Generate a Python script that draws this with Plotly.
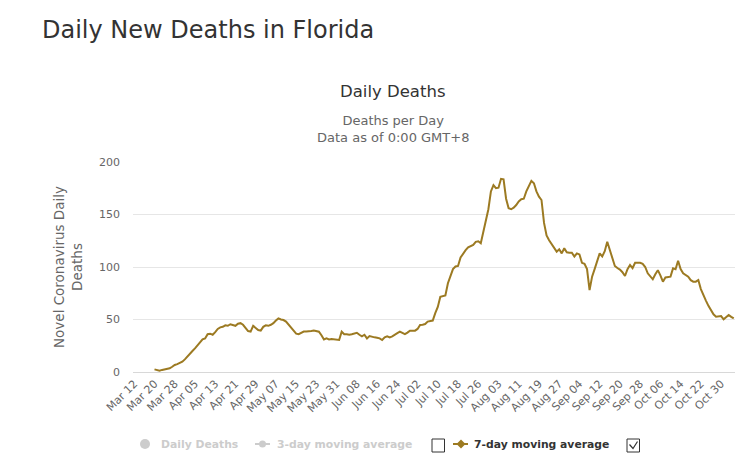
import plotly.graph_objects as go
import pandas as pd

# ---- data ----
dates = pd.date_range("2020-03-12", "2020-11-04", freq="D")
categories = [d.strftime("%b %d") for d in dates]

avg7 = [None] * 8 + [
    2.5, 1.5, 1.2, 2, 2.5, 2.5, 3.5, 5, 6.7, 7.5, 8.5, 9.8,            # d8-19
    12, 15, 18, 20, 22.5, 25, 28.5, 31, 32, 36,                          # d20-29
    36.5, 35.5, 38, 41, 42.5, 43, 44.5, 44, 45.5, 44.5,                  # d30-39
    44, 46, 46.5, 45, 42.5, 39, 38.5, 44, 42, 40,                        # d40-49
    39.4, 43, 44.5, 44, 45, 46.5, 49, 51, 50, 49.5,                      # d50-59
    48, 45, 42, 39, 36.5, 36, 37.5, 38.5, 38.5, 38.4,                    # d60-69
    39, 39.4, 39, 38.4, 35, 31, 32, 31, 31.5, 31,                        # d70-79
    30.5, 30.5, 38.4, 36, 36, 35.5, 36, 37, 37.4, 35.5,                  # d80-89
    34, 35.5, 32, 34.3, 33.5, 33, 32.7, 32, 30.5, 33,                    # d90-99
    34, 33, 34, 35.2, 37, 38.4, 37.5, 36, 37.5, 39.4,                    # d100-109
    39.4, 39.4, 41, 44.8, 45, 45.7, 48, 48.5, 49, 56,                    # d110-119
    62, 71.7, 72, 73, 84.5, 92, 98, 100.5, 101, 109,                     # d120-129
    113, 116, 118.7, 120, 121, 124, 124.5, 122.6, 133, 146,              # d130-139
    155, 172, 178, 175, 175.5, 184, 183.5, 165, 156, 155,                # d140-149
    156.5, 159, 162.5, 164.5, 165, 172, 177, 182, 179.7, 172,            # d150-159
    167, 163.8, 142, 130, 125.5, 122, 119, 114.6, 116.9, 113,            # d160-169
    117.8, 114, 113.6, 113.6, 110, 113, 112, 104, 103, 98,               # d170-179
    78, 90.8, 98, 106, 113, 110, 115, 124, 116, 107,                     # d180-189
    101, 99, 97.5, 95, 91.4, 98, 101.9, 99, 104, 104,                    # d190-199
    104, 103, 100, 94, 91, 88.3, 93, 97, 92, 86,                         # d200-209
    90, 90.5, 90.8, 98.7, 97.8, 106, 98, 94, 92, 90.8,                   # d210-219
    87.5, 86, 86, 87.6, 79, 72.5, 68, 63, 59, 55,                        # d220-229
    52.7, 53, 53.3, 50.2, 52.5, 54.3, 52.5, 51,                          # d230-237
]

y_ticks = [0, 50, 100, 150, 200]
x_tick_labels = categories[::8]

LINE = "#9c7a22"
W, H = 749, 469
L, R, T, B = 133, 14, 162, 97
PW, PH = W - L - R, H - T - B


def px(xp):
    return (xp - L) / PW


def py(yp):
    return (H - B - yp) / PH


FONT = "DejaVu Sans"

fig = go.Figure()
fig.add_trace(go.Scatter(
    x=categories, y=avg7, mode="lines", name="7-day moving average",
    line=dict(color=LINE, width=2), connectgaps=False, showlegend=False,
))

fig.update_layout(
    width=W, height=H, autosize=False,
    margin=dict(l=L, r=R, t=T, b=B),
    paper_bgcolor="white", plot_bgcolor="white",
    font=dict(family=FONT, color="#666666", size=11),
    xaxis=dict(
        type="category", categoryorder="array", categoryarray=categories,
        range=[-0.5, len(categories) - 0.5],
        tickmode="array", tickvals=x_tick_labels, ticktext=x_tick_labels,
        tickangle=-45, tickfont=dict(size=11, color="#666666"),
        showgrid=False, showline=True, linecolor="#d8d8d8", linewidth=1,
        ticks="", zeroline=False, fixedrange=True,
    ),
    yaxis=dict(
        range=[0, 200], tickvals=y_ticks, showgrid=True, gridcolor="#e6e6e6",
        gridwidth=1, zeroline=False, showline=False, ticks="",
        tickfont=dict(size=11, color="#666666"), ticklabelstandoff=12,
        title=dict(text="Novel Coronavirus Daily<br>Deaths",
                   font=dict(size=13.5, color="#666666"), standoff=13),
        fixedrange=True,
    ),
)

ann = []
ann.append(dict(text="Daily New Deaths in Florida", x=px(40), y=py(30),
                xref="paper", yref="paper", xanchor="left", yanchor="middle",
                showarrow=False, font=dict(size=24, color="#333333", family=FONT)))
ann.append(dict(text="Daily Deaths", x=px(393), y=py(91),
                xref="paper", yref="paper", xanchor="center", yanchor="middle",
                showarrow=False, font=dict(size=16.5, color="#333333", family=FONT)))
ann.append(dict(text="Deaths per Day<br>Data as of 0:00 GMT+8", x=px(393), y=py(129),
                xref="paper", yref="paper", xanchor="center", yanchor="middle",
                showarrow=False, font=dict(size=13, color="#666666", family=FONT)))

LY = 444
for txt, x0, col in [("Daily Deaths", 159, "#cccccc"),
                     ("3-day moving average", 275, "#cccccc"),
                     ("7-day moving average", 472, "#333333")]:
    ann.append(dict(text="<b>%s</b>" % txt, x=px(x0), y=py(LY),
                    xref="paper", yref="paper", xanchor="left", yanchor="middle",
                    showarrow=False, font=dict(size=10.8, color=col, family=FONT)))

shapes = []
# Daily Deaths circle
shapes.append(dict(type="circle", xref="paper", yref="paper",
                   x0=px(140), x1=px(150), y0=py(LY - 5), y1=py(LY + 5),
                   fillcolor="#cccccc", line=dict(width=0)))
# 3-day line+marker
shapes.append(dict(type="line", xref="paper", yref="paper",
                   x0=px(255), x1=px(270), y0=py(LY), y1=py(LY),
                   line=dict(color="#cccccc", width=2)))
shapes.append(dict(type="circle", xref="paper", yref="paper",
                   x0=px(259), x1=px(266), y0=py(LY - 3.5), y1=py(LY + 3.5),
                   fillcolor="#cccccc", line=dict(width=0)))
# 7-day line + diamond
shapes.append(dict(type="line", xref="paper", yref="paper",
                   x0=px(453), x1=px(468), y0=py(LY), y1=py(LY),
                   line=dict(color=LINE, width=2)))
dx, dy = 461, LY
shapes.append(dict(type="path", xref="paper", yref="paper",
                   path="M %f %f L %f %f L %f %f L %f %f Z" % (
                       px(dx), py(dy - 4.5), px(dx + 4.5), py(dy),
                       px(dx), py(dy + 4.5), px(dx - 4.5), py(dy)),
                   fillcolor=LINE, line=dict(width=0)))
# checkboxes
for cx in (432, 627):
    shapes.append(dict(type="rect", xref="paper", yref="paper",
                       x0=px(cx), x1=px(cx + 12.5), y0=py(LY - 5), y1=py(LY + 8),
                       fillcolor="white", line=dict(color="#333333", width=1)))
# check mark in second box
shapes.append(dict(type="path", xref="paper", yref="paper",
                   path="M %f %f L %f %f L %f %f" % (
                       px(629.5), py(LY + 0.5), px(633), py(LY + 4.5), px(637.5), py(LY - 2.5)),
                   line=dict(color="#333333", width=1.2)))

fig.update_layout(annotations=ann, shapes=shapes)
fig.write_html("out.html")
